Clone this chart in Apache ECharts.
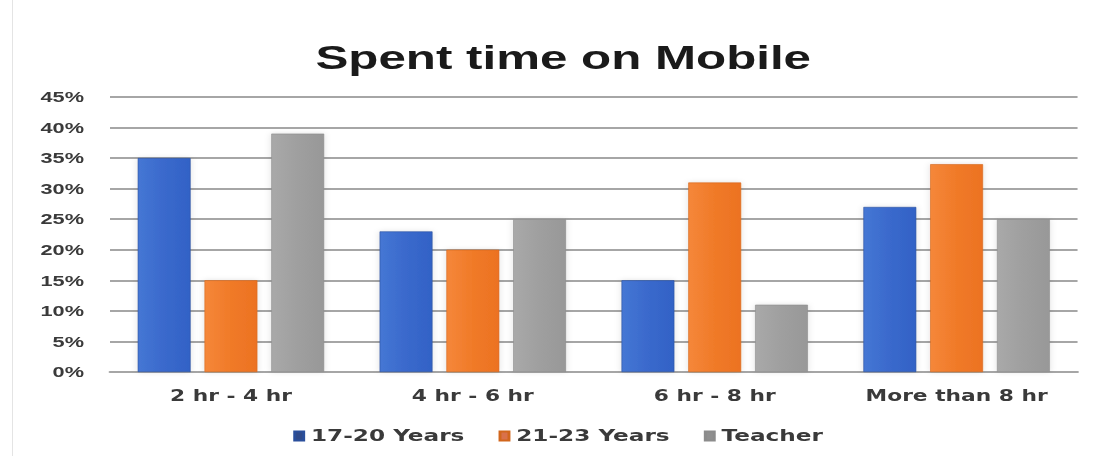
<!DOCTYPE html>
<html>
<head>
<meta charset="utf-8">
<script src="https://cdn.jsdelivr.net/npm/echarts@6/dist/echarts.min.js"></script>
<style>
  html, body { margin: 0; padding: 0; background: #ffffff; overflow: hidden; }
  /* The chart is laid out narrower and widened horizontally, giving the wide lettering */
  #chart { width: 759.31px; height: 456px; transform: scaleX(1.45); transform-origin: 0 0; }
</style>
</head>
<body>
<div id="chart"></div>
<script>
// Time spent on mobile phones, share of respondents per group (%)
const categories = ['2 hr - 4 hr', '4 hr - 6 hr', '6 hr - 8 hr', 'More than 8 hr'];
const seriesNames = ['17-20 Years', '21-23 Years', 'Teacher'];
const years17to20 = [35, 23, 15, 27];
const years21to23 = [15, 20, 31, 34];
const teacher = [39, 25, 11, 25];
const yTicks = [0, 5, 10, 15, 20, 25, 30, 35, 40, 45];

const SX = 1.45; // horizontal widening applied to the whole chart
const SANS = '"Liberation Sans", Arial, sans-serif';
const WIDE = '"DejaVu Sans", Verdana, sans-serif';

function sideGradient(a, b, c) {
  return new echarts.graphic.LinearGradient(0, 0, 1, 0, [
    { offset: 0, color: a },
    { offset: 0.5, color: b },
    { offset: 1, color: c }
  ]);
}

const styles = [
  { fill: sideGradient('#4577d4', '#3a69cc', '#3262c6'), border: '#2a4f9c', legend: '#2f4a8a' },
  { fill: sideGradient('#f5873a', '#f07a28', '#ec7222'), border: '#d2661c', legend: '#d9714a' },
  { fill: sideGradient('#a9a9a9', '#9f9f9f', '#989898'), border: '#8c8c8c', legend: '#8f8f8f' }
];

const values = [years17to20, years21to23, teacher];

const chart = echarts.init(document.getElementById('chart'), null, { renderer: 'svg' });

chart.setOption({
  animation: false,
  backgroundColor: '#ffffff',
  title: {
    text: 'Spent time on Mobile',
    left: 556 / SX,
    textAlign: 'center',
    top: 35,
    textStyle: { fontFamily: SANS, fontSize: 34, fontWeight: 'bold', color: '#1a1a1a' }
  },
  legend: {
    data: seriesNames.map((n, i) => ({ name: n, itemStyle: { color: styles[i].legend } })),
    bottom: 7,
    left: 286 / SX,
    icon: 'rect',
    itemWidth: 9 / SX,
    itemHeight: 9,
    itemGap: 34 / SX,
    textStyle: { fontFamily: WIDE, fontSize: 16, fontWeight: 'bold', color: '#3a3a3a' }
  },
  grid: { left: 110 / SX, right: 23 / SX, top: 97, bottom: 84, containLabel: false },
  xAxis: {
    type: 'category',
    data: categories,
    axisTick: { show: false },
    axisLine: { lineStyle: { color: '#a6a6a6', width: 2 } },
    axisLabel: { margin: 16, fontFamily: WIDE, fontSize: 15, fontWeight: 'bold', color: '#3a3a3a' }
  },
  yAxis: {
    type: 'value',
    min: yTicks[0],
    max: yTicks[yTicks.length - 1],
    interval: 5,
    axisLine: { show: false },
    axisTick: { show: false },
    splitLine: { lineStyle: { color: '#a6a6a6', width: 2 } },
    axisLabel: {
      margin: 26 / SX,
      fontFamily: SANS, fontSize: 15, fontWeight: 'bold', color: '#3a3a3a',
      formatter: v => v + '%'
    }
  },
  series: seriesNames.map((name, i) => ({
    name: name,
    type: 'bar',
    data: values[i],
    barWidth: 53 / SX,
    barGap: '26%',
    itemStyle: {
      color: styles[i].fill,
      borderColor: styles[i].border,
      borderWidth: 0.5,
      shadowBlur: 5,
      shadowColor: 'rgba(0,0,0,0.12)'
    }
  })),
  graphic: [{
    type: 'rect',
    silent: true,
    shape: { x: 12.5 / SX, y: -2, width: 1100, height: 500 },
    style: { fill: 'none', stroke: '#e4e4e4', lineWidth: 0.7 }
  }]
});
</script>
</body>
</html>
